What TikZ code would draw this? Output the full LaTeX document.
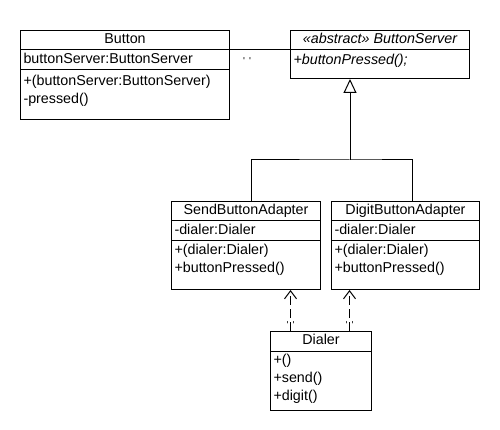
\documentclass[tikz,border=0pt]{standalone}
\usepackage{fontspec}
\setmainfont{Liberation Sans}
\usetikzlibrary{arrows.meta}

% one compartment line below the top of a class box
\newcommand{\umlsep}[2]{\draw ([yshift=-#2pt]#1.north west) -- ([yshift=-#2pt]#1.north east);}
% operations, one per row, starting #2 below the top of box #1
\newcommand{\umlmembers}[3]{%
  \foreach \m [count=\i from 0] in {#3}
    \node[member] (#1m\i) at ([xshift=3pt,yshift={-(#2+18*\i)*1pt}]#1.north west) {\m};}

\begin{document}
\begin{tikzpicture}[x=1pt,y=-1pt,line width=1pt,
  umlclass/.style={draw, inner sep=0pt, anchor=north west},
  member/.style={font=\fontsize{14.3}{17}\selectfont, inner sep=0pt, text height=10pt, text depth=3pt, anchor=west},
  heading/.style={member, anchor=center},
  tick/.style={font=\fontsize{10}{10}\selectfont, inner sep=0pt},
  dep/.style={dash pattern=on 9pt off 4pt, -{Straight Barb[length=8pt,width=12pt]}},
  gen/.style={-{Triangle[open,length=14pt,width=13pt]}}]

	\useasboundingbox (0,0) rectangle (500,430);

	% Button
	\node[umlclass, minimum width=209pt, minimum height=89pt] (button) at (20,30) {};
	\umlsep{button}{20}
	\umlsep{button}{40}
	\node[heading] (buttonT) at ([yshift=-10pt]button.north) {Button};
	\node[member] (buttonA) at ([xshift=3pt,yshift=-30pt]button.north west) {buttonServer:ButtonServer};
	\umlmembers{button}{52}{+(buttonServer:ButtonServer),-pressed()}

	% ButtonServer
	\node[umlclass, minimum width=179pt, minimum height=48pt] (server) at (290,30) {};
	\umlsep{server}{20}
	\node[heading] (serverT) at ([yshift=-10pt]server.north) {\itshape «abstract» ButtonServer};
	\node[member] (serverA) at ([xshift=3pt,yshift=-31pt]server.north west) {\itshape +buttonPressed();};

	% SendButtonAdapter
	\node[umlclass, minimum width=149pt, minimum height=88pt] (send) at (171,201) {};
	\umlsep{send}{20}
	\umlsep{send}{39}
	\node[heading] (sendT) at ([yshift=-10pt]send.north) {SendButtonAdapter};
	\node[member] (sendA) at ([xshift=3pt,yshift=-30pt]send.north west) {-dialer:Dialer};
	\umlmembers{send}{50}{+(dialer:Dialer),+buttonPressed()}

	% DigitButtonAdapter
	\node[umlclass, minimum width=148pt, minimum height=88pt] (digit) at (331,201) {};
	\umlsep{digit}{20}
	\umlsep{digit}{39}
	\node[heading] (digitT) at ([yshift=-10pt]digit.north) {DigitButtonAdapter};
	\node[member] (digitA) at ([xshift=3pt,yshift=-30pt]digit.north west) {-dialer:Dialer};
	\umlmembers{digit}{50}{+(dialer:Dialer),+buttonPressed()}

	% Dialer
	\node[umlclass, minimum width=101pt, minimum height=79pt] (dialer) at (270,331) {};
	\umlsep{dialer}{20}
	\node[heading] (dialerT) at ([yshift=-10pt]dialer.north) {Dialer};
	\umlmembers{dialer}{30}{+(),+send(),+digit()}

	% association
	\draw ([yshift=-20pt]button.north east) -- ([yshift=-20pt]server.north west);
	\node[tick] (assocL) at (247,61) {\textquotesingle\hspace{4pt}\textquotesingle};

	% generalization
	\coordinate (hub) at (350,160);
	\coordinate (sendTop) at ([xshift=5.5pt]send.north);
	\coordinate (digitTop) at ([xshift=7pt]digit.north);
	\draw (sendTop) |- (hub) -| (digitTop);
	\draw[gen] (hub) -- (hub |- server.south);

	% dependencies
	\coordinate (depA) at ([xshift=-30.5pt]dialer.north);
	\coordinate (depB) at ([xshift=28.5pt]dialer.north);
	\draw[dep] (depA) -- (depA |- send.south);
	\draw[dep] (depB) -- (depB |- digit.south);
	\node[tick] (depAL) at ([yshift=6pt]depA) {\textquotesingle\hspace{4pt}\textquotesingle};
	\node[tick] (depBL) at ([yshift=6pt]depB) {\textquotesingle\hspace{4pt}\textquotesingle};

\end{tikzpicture}
\end{document}
